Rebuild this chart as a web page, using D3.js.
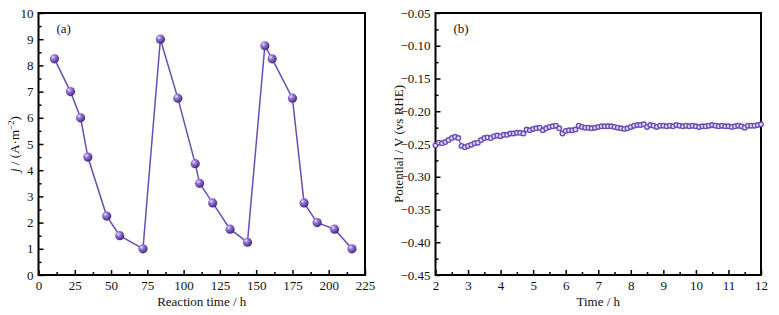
<!DOCTYPE html>
<html>
<head>
<meta charset="utf-8">
<script src="https://cdn.jsdelivr.net/npm/d3@7"></script>
<style>
  body { margin: 0; background: #fff; }
  svg, svg text { font-family: "Liberation Serif", "Times New Roman", "DejaVu Serif", serif !important; fill: #111; }
</style>
</head>
<body>
<div id="chart"></div>
<script>
// panel (a): current density vs reaction time
const timeA = [11, 22, 29, 34, 47, 56, 72, 84, 96, 108, 111, 120, 132, 144, 156, 161, 175, 183, 192, 204, 216];
const currentA = [8.25, 7.0, 6.0, 4.5, 2.25, 1.5, 1.0, 9.0, 6.75, 4.25, 3.5, 2.75, 1.75, 1.25, 8.75, 8.25, 6.75, 2.75, 2.0, 1.75, 1.0];
const xTicksA = [0, 25, 50, 75, 100, 125, 150, 175, 200, 225];
const yTicksA = [0, 1, 2, 3, 4, 5, 6, 7, 8, 9, 10];

// panel (b): potential vs time
const timeB = [2.0, 2.1, 2.2, 2.3, 2.4, 2.5, 2.6, 2.7, 2.8, 2.9,
  3.0, 3.1, 3.2, 3.3, 3.4, 3.5, 3.6, 3.7, 3.8, 3.9,
  4.0, 4.1, 4.2, 4.3, 4.4, 4.5, 4.6, 4.7, 4.8, 4.9,
  5.0, 5.1, 5.2, 5.3, 5.4, 5.5, 5.6, 5.7, 5.8, 5.9,
  6.0, 6.1, 6.2, 6.3, 6.4, 6.5, 6.6, 6.7, 6.8, 6.9,
  7.0, 7.1, 7.2, 7.3, 7.4, 7.5, 7.6, 7.7, 7.8, 7.9,
  8.0, 8.1, 8.2, 8.3, 8.4, 8.5, 8.6, 8.7, 8.8, 8.9,
  9.0, 9.1, 9.2, 9.3, 9.4, 9.5, 9.6, 9.7, 9.8, 9.9,
  10.0, 10.1, 10.2, 10.3, 10.4, 10.5, 10.6, 10.7, 10.8, 10.9,
  11.0, 11.1, 11.2, 11.3, 11.4, 11.5, 11.6, 11.7, 11.8, 11.9, 12.0];
const potentialB = [-0.252, -0.248, -0.249, -0.247, -0.244, -0.241, -0.239, -0.241, -0.253, -0.255,
  -0.253, -0.251, -0.249, -0.248, -0.244, -0.241, -0.240, -0.241, -0.238, -0.237,
  -0.238, -0.236, -0.236, -0.234, -0.234, -0.233, -0.233, -0.234, -0.228, -0.229,
  -0.227, -0.226, -0.225, -0.229, -0.226, -0.224, -0.223, -0.222, -0.226, -0.234,
  -0.230, -0.229, -0.229, -0.228, -0.222, -0.224, -0.225, -0.225, -0.226, -0.225,
  -0.224, -0.223, -0.223, -0.223, -0.223, -0.224, -0.225, -0.226, -0.227, -0.226,
  -0.224, -0.222, -0.221, -0.221, -0.220, -0.224, -0.221, -0.222, -0.224, -0.222,
  -0.222, -0.223, -0.222, -0.223, -0.221, -0.222, -0.223, -0.222, -0.223, -0.222,
  -0.223, -0.224, -0.223, -0.223, -0.222, -0.221, -0.222, -0.223, -0.222, -0.223,
  -0.223, -0.224, -0.223, -0.222, -0.223, -0.225, -0.222, -0.222, -0.222, -0.221, -0.220];
const xTicksB = [2, 3, 4, 5, 6, 7, 8, 9, 10, 11, 12];
const yTicksB = [-0.45, -0.40, -0.35, -0.30, -0.25, -0.20, -0.15, -0.10, -0.05];

const W = 779, H = 315;
const lineColor = "#6a4cb4";
const FONT = "Liberation Serif";

const svg = d3.select("#chart").append("svg")
    .attr("width", W)
    .attr("height", H)
    .attr("font-family", FONT);

// sphere-like marker gradient
const defs = svg.append("defs");
const grad = defs.append("radialGradient")
    .attr("id", "sphere")
    .attr("cx", "35%").attr("cy", "32%").attr("r", "70%");
grad.append("stop").attr("offset", "0%").attr("stop-color", "#f2ecff");
grad.append("stop").attr("offset", "30%").attr("stop-color", "#9a7fd8");
grad.append("stop").attr("offset", "75%").attr("stop-color", "#6444a8");
grad.append("stop").attr("offset", "100%").attr("stop-color", "#3e2574");

function drawPanel(opts) {
    const g = svg.append("g");
    const x = d3.scaleLinear().domain(opts.xDomain).range([opts.left, opts.right]);
    const y = d3.scaleLinear().domain(opts.yDomain).range([opts.bottom, opts.top]);

    // minor ticks (inward), halfway between majors
    const xMinor = [];
    for (let i = 0; i < opts.xTicks.length - 1; i++) xMinor.push((opts.xTicks[i] + opts.xTicks[i + 1]) / 2);
    const yMinor = [];
    for (let i = 0; i < opts.yTicks.length - 1; i++) yMinor.push((opts.yTicks[i] + opts.yTicks[i + 1]) / 2);

    g.append("g")
        .attr("transform", `translate(0,${opts.bottom})`)
        .call(d3.axisTop(x).tickValues(xMinor).tickSize(3).tickFormat(""))
        .call(a => a.select(".domain").remove())
        .selectAll("line").attr("stroke", "#000").attr("stroke-width", 1.5);
    g.append("g")
        .attr("transform", `translate(${opts.left},0)`)
        .call(d3.axisRight(y).tickValues(yMinor).tickSize(3).tickFormat(""))
        .call(a => a.select(".domain").remove())
        .selectAll("line").attr("stroke", "#000").attr("stroke-width", 1.5);

    // major ticks (inward) with labels outside
    const xAx = g.append("g")
        .attr("transform", `translate(0,${opts.bottom})`)
        .call(d3.axisBottom(x).tickValues(opts.xTicks).tickSizeInner(-5).tickSizeOuter(0).tickPadding(6).tickFormat(opts.xFormat));
    xAx.attr("font-family", FONT).attr("font-size", 13);
    xAx.select(".domain").remove();
    xAx.selectAll("line").attr("stroke", "#000").attr("stroke-width", 1.5);
    xAx.selectAll("text").attr("fill", "#111");

    const yAx = g.append("g")
        .attr("transform", `translate(${opts.left},0)`)
        .call(d3.axisLeft(y).tickValues(opts.yTicks).tickSizeInner(-5).tickSizeOuter(0).tickPadding(5).tickFormat(opts.yFormat));
    yAx.attr("font-family", FONT).attr("font-size", 13);
    yAx.select(".domain").remove();
    yAx.selectAll("line").attr("stroke", "#000").attr("stroke-width", 1.5);
    yAx.selectAll("text").attr("fill", "#111");

    // frame
    g.append("rect")
        .attr("x", opts.left).attr("y", opts.top)
        .attr("width", opts.right - opts.left).attr("height", opts.bottom - opts.top)
        .attr("fill", "none").attr("stroke", "#000").attr("stroke-width", 2);

    // axis titles
    g.append("text")
        .attr("x", (opts.left + opts.right) / 2).attr("y", opts.bottom + 31)
        .attr("text-anchor", "middle").attr("font-size", 13)
        .text(opts.xLabel);
    const yl = g.append("text")
        .attr("transform", `translate(${opts.yLabelX},${(opts.top + opts.bottom) / 2}) rotate(-90)`)
        .attr("text-anchor", "middle").attr("font-size", 13);
    opts.yLabel(yl);

    // panel letter
    g.append("text")
        .attr("x", opts.left + 18).attr("y", opts.top + 20)
        .attr("font-size", 13)
        .text(opts.tag);

    return { g, x, y };
}

// ---- panel (a)
const pa = drawPanel({
    left: 38.5, right: 365, top: 13, bottom: 275,
    xDomain: [0, 225], yDomain: [0, 10],
    xTicks: xTicksA, yTicks: yTicksA,
    xFormat: d3.format("d"), yFormat: d3.format("d"),
    xLabel: "Reaction time / h",
    yLabelX: 19,
    yLabel: t => {
        t.append("tspan").attr("font-style", "italic").text("j");
        t.append("tspan").text(" / (A\u00B7m");
        t.append("tspan").attr("dy", -5).attr("font-size", 9).text("\u22122");
        t.append("tspan").attr("dy", 5).text(")");
    },
    tag: "(a)"
});

const dataA = timeA.map((t, i) => ({ t: t, v: currentA[i] }));
pa.g.append("path")
    .datum(dataA)
    .attr("fill", "none")
    .attr("stroke", lineColor)
    .attr("stroke-width", 1.5)
    .attr("d", d3.line().x(d => pa.x(d.t)).y(d => pa.y(d.v)));
pa.g.selectAll("circle.pt")
    .data(dataA)
    .enter().append("circle")
    .attr("class", "pt")
    .attr("cx", d => pa.x(d.t))
    .attr("cy", d => pa.y(d.v))
    .attr("r", 4.6)
    .attr("fill", "url(#sphere)");

// ---- panel (b)
const pb = drawPanel({
    left: 435.5, right: 761, top: 13, bottom: 275,
    xDomain: [2, 12], yDomain: [-0.45, -0.05],
    xTicks: xTicksB, yTicks: yTicksB,
    xFormat: d3.format("d"),
    yFormat: d => d3.format(".2f")(d).replace("-", "\u2212"),
    xLabel: "Time / h",
    yLabelX: 403,
    yLabel: t => t.text("Potential / V (vs RHE)"),
    tag: "(b)"
});

const dataB = timeB.map((t, i) => ({ t: t, v: potentialB[i] }));
pb.g.append("path")
    .datum(dataB)
    .attr("fill", "none")
    .attr("stroke", lineColor)
    .attr("stroke-width", 1.2)
    .attr("d", d3.line().x(d => pb.x(d.t)).y(d => pb.y(d.v)));
pb.g.selectAll("circle.pt")
    .data(dataB)
    .enter().append("circle")
    .attr("class", "pt")
    .attr("cx", d => pb.x(d.t))
    .attr("cy", d => pb.y(d.v))
    .attr("r", 2.3)
    .attr("fill", "#e6dcff")
    .attr("stroke", "#6a4cb4")
    .attr("stroke-width", 1.4);
</script>
</body>
</html>
